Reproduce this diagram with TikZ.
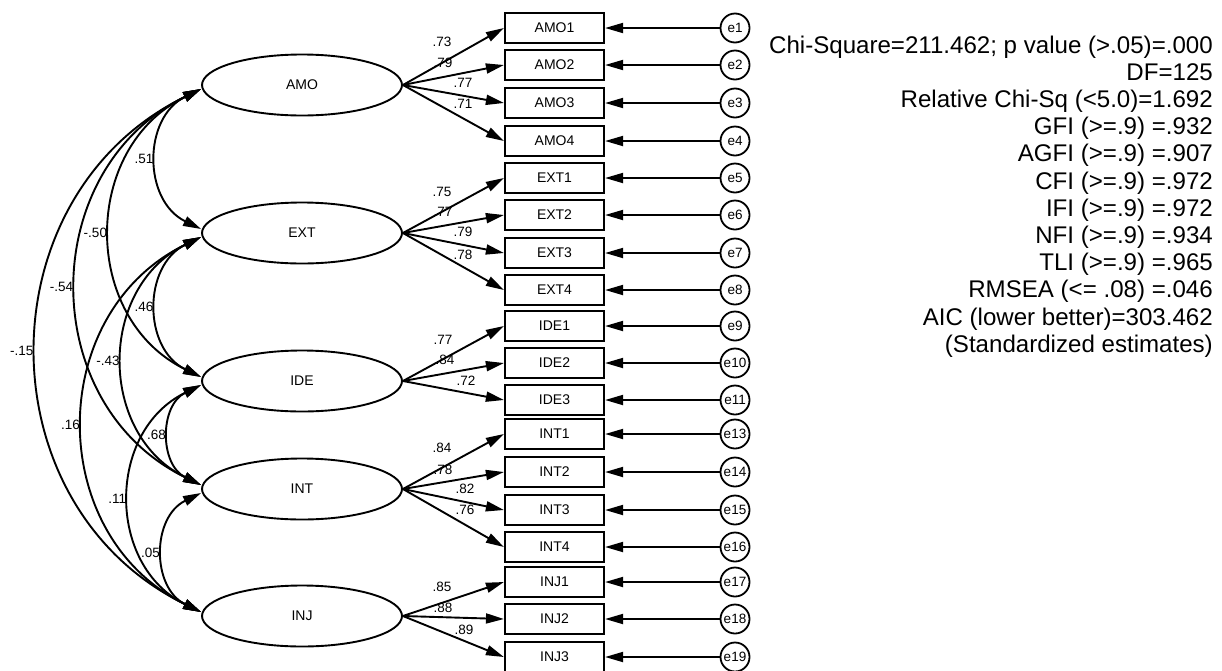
\documentclass[tikz,border=0pt]{standalone}
\usepackage{fontspec}
\setmainfont{Liberation Sans}
\usetikzlibrary{arrows.meta,shapes.geometric}
\begin{document}
\begin{tikzpicture}[x=1pt,y=-1pt,
  >={Triangle[length=18pt,width=10pt]},
  lat/.style={ellipse, draw, line width=1.9pt, minimum width=200pt, minimum height=61pt, inner sep=0pt, font=\fontsize{14}{16}\selectfont},
  obs/.style={rectangle, draw, line width=2.2pt, minimum width=99pt, minimum height=30pt, inner sep=0pt, font=\fontsize{14}{16}\selectfont},
  err/.style={circle, draw, line width=1.8pt, minimum size=29pt, inner sep=0pt, font=\fontsize{13.5}{15}\selectfont},
  reg/.style={line width=1.9pt, ->},
  cov/.style={line width=1.9pt, <->, bend right=64, looseness=1.19},
  lbl/.style={font=\fontsize{13.5}{15}\selectfont, inner sep=0pt},
  clbl/.style={left=2pt, font=\fontsize{13.5}{15}\selectfont, inner sep=1pt},
  stat/.style={anchor=base east, inner sep=0pt, font=\fontsize{24.1}{27}\selectfont}]
\fill[white] (0,0) rectangle (1222,670);
\useasboundingbox (0,0) rectangle (1222,670);

% latent variables
\node[lat] (AMO) at (302,85) {AMO};
\node[lat] (EXT) at (302,233) {EXT};
\node[lat] (IDE) at (302,381) {IDE};
\node[lat] (INT) at (302,489) {INT};
\node[lat] (INJ) at (302,616) {INJ};

% observed variables and errors
\foreach \n/\y/\e in {AMO1/28/e1, AMO2/65/e2, AMO3/103/e3, AMO4/141/e4,
  EXT1/178/e5, EXT2/215/e6, EXT3/253/e7, EXT4/290/e8,
  IDE1/326/e9, IDE2/363/e10, IDE3/400/e11,
  INT1/434/e13, INT2/472/e14, INT3/510/e15, INT4/547/e16,
  INJ1/582/e17, INJ2/619/e18, INJ3/657/e19}{
  \node[obs] (\n) at (554.5,\y) {\n};
  \node[err] (\e) at (735,\y) {\e};
  \draw[reg] (\e) -- (\n.east);
}

% loadings
\foreach \f/\n/\x/\y/\v in {AMO/AMO1/442/42/.73, AMO/AMO2/443/63/.79, AMO/AMO3/463/83/.77, AMO/AMO4/463/104/.71,
  EXT/EXT1/442/192/.75, EXT/EXT2/443/212/.77, EXT/EXT3/463/232/.79, EXT/EXT4/463/255/.78,
  IDE/IDE1/443/340/.77, IDE/IDE2/445/360/.84, IDE/IDE3/466/381/.72,
  INT/INT1/442/448/.84, INT/INT2/443/470/.78, INT/INT3/465/489/.82, INT/INT4/465/510/.76,
  INJ/INJ1/442/587/.85, INJ/INJ2/443/608/.88, INJ/INJ3/464/630/.89}{
  \draw[reg] (\f.east) -- (\n.west);
  \node[lbl] (l\n) at (\x,\y) {\v};
}

% covariances
\foreach \a/\b/\v in {AMO/EXT/.51, AMO/IDE/-.50, AMO/INT/-.54, AMO/INJ/-.15,
  EXT/IDE/.46, EXT/INT/-.43, EXT/INJ/.16, IDE/INT/.68, IDE/INJ/.11, INT/INJ/.05}{
  \draw[cov] ([yshift=-4pt]\a.west) to node[clbl] (c\a\b) {\v} ([yshift=4pt]\b.west);
}

% fit statistics
\node[stat] (s1) at (1213,53) {Chi-Square=211.462; p value (>.05)=.000};
\node[stat] (s2) at (1213,80.2) {DF=125};
\node[stat] (s3) at (1213,107.4) {Relative Chi-Sq (<5.0)=1.692};
\node[stat] (s4) at (1213,134.6) {GFI (>=.9) =.932};
\node[stat] (s5) at (1213,161.8) {AGFI (>=.9) =.907};
\node[stat] (s6) at (1213,189) {CFI (>=.9) =.972};
\node[stat] (s7) at (1213,216.2) {IFI (>=.9) =.972};
\node[stat] (s8) at (1213,243.4) {NFI (>=.9) =.934};
\node[stat] (s9) at (1213,270.6) {TLI (>=.9) =.965};
\node[stat] (s10) at (1213,297.8) {RMSEA (<= .08) =.046};
\node[stat] (s11) at (1213,325) {AIC (lower better)=303.462};
\node[stat] (s12) at (1213,352.2) {(Standardized estimates)};
\end{tikzpicture}
\end{document}
